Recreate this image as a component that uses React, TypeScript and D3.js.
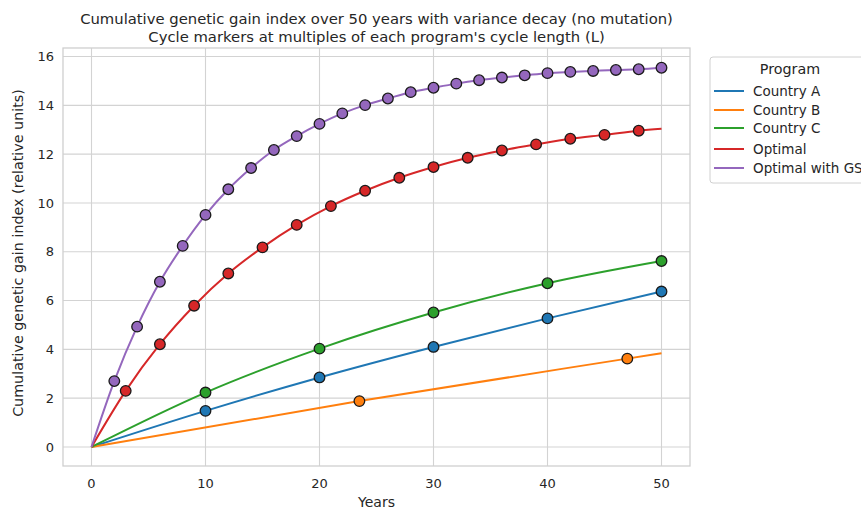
import React, { useEffect, useRef } from "react";
import * as d3 from "d3";

// values
const seriesNames = ["Country A", "Country B", "Country C", "Optimal", "Optimal with GS"];
const seriesColors = ["#1f77b4", "#ff7f0e", "#2ca02c", "#d62728", "#9467bd"];

const yearsA = [0, 10, 20, 30, 40, 50];
const gainA = [0, 1.48, 2.85, 4.1, 5.27, 6.37];
const markersA = [10, 20, 30, 40, 50];

const yearsB = [0, 23.5, 47, 50];
const gainB = [0, 1.88, 3.62, 3.84];
const markersB = [23.5, 47];

const yearsC = [0, 10, 20, 30, 40, 50];
const gainC = [0, 2.23, 4.03, 5.51, 6.71, 7.62];
const markersC = [10, 20, 30, 40, 50];

const yearsOpt = [0, 3, 6, 9, 12, 15, 18, 21, 24, 27, 30, 33, 36, 39, 42, 45, 48, 50];
const gainOpt = [0, 2.3, 4.21, 5.79, 7.11, 8.18, 9.1, 9.87, 10.5, 11.03, 11.47, 11.85, 12.15, 12.4, 12.63, 12.79, 12.96, 13.04];
const markersOpt = [3, 6, 9, 12, 15, 18, 21, 24, 27, 30, 33, 36, 39, 42, 45, 48];

const yearsGS = [0, 2, 4, 6, 8, 10, 12, 14, 16, 18, 20, 22, 24, 26, 28, 30, 32, 34, 36, 38, 40, 42, 44, 46, 48, 50];
const gainGS = [0, 2.7, 4.93, 6.77, 8.24, 9.51, 10.56, 11.43, 12.17, 12.74, 13.24, 13.67, 14.01, 14.28, 14.54, 14.72, 14.89, 15.03, 15.14, 15.23, 15.32, 15.37, 15.41, 15.45, 15.48, 15.54];
const markersGS = [2, 4, 6, 8, 10, 12, 14, 16, 18, 20, 22, 24, 26, 28, 30, 32, 34, 36, 38, 40, 42, 44, 46, 48, 50];

const xTicks = [0, 10, 20, 30, 40, 50];
const yTicks = [0, 2, 4, 6, 8, 10, 12, 14, 16];

const App = () => {
  const ref = useRef<SVGSVGElement>(null);

  useEffect(() => {
    const width = 861;
    const height = 509;
    const margin = { top: 48, right: 171, bottom: 43, left: 63 };
    const innerWidth = width - margin.left - margin.right;
    const innerHeight = height - margin.top - margin.bottom;
    const font = "DejaVu Sans, sans-serif";

    const svg = d3.select(ref.current);
    svg.selectAll("*").remove();
    svg.attr("width", width).attr("height", height);

    svg.append("rect").attr("width", width).attr("height", height).attr("fill", "#fff");

    const g = svg.append("g").attr("transform", `translate(${margin.left},${margin.top})`);

    const xScale = d3.scaleLinear().domain([-2.5, 52.5]).range([0, innerWidth]);
    const yScale = d3.scaleLinear().domain([-0.78, 16.35]).range([innerHeight, 0]);

    // grid
    g.selectAll(".xgrid").data(xTicks).join("line")
      .attr("x1", d => xScale(d)).attr("x2", d => xScale(d))
      .attr("y1", 0).attr("y2", innerHeight)
      .attr("stroke", "#d3d3d3").attr("stroke-width", 1.1);
    g.selectAll(".ygrid").data(yTicks).join("line")
      .attr("x1", 0).attr("x2", innerWidth)
      .attr("y1", d => yScale(d)).attr("y2", d => yScale(d))
      .attr("stroke", "#d3d3d3").attr("stroke-width", 1.1);

    // frame
    g.append("rect").attr("width", innerWidth).attr("height", innerHeight)
      .attr("fill", "none").attr("stroke", "#cfcfcf").attr("stroke-width", 1.3);

    // tick labels
    g.selectAll(".xtick").data(xTicks).join("text")
      .attr("x", d => xScale(d)).attr("y", innerHeight + 22)
      .attr("text-anchor", "middle").attr("font-family", font).attr("font-size", 13)
      .attr("fill", "#262626").text(d => d);
    g.selectAll(".ytick").data(yTicks).join("text")
      .attr("x", -9).attr("y", d => yScale(d)).attr("dy", "0.35em")
      .attr("text-anchor", "end").attr("font-family", font).attr("font-size", 13)
      .attr("fill", "#262626").text(d => d);

    // axis labels
    g.append("text").attr("x", innerWidth / 2).attr("y", innerHeight + 41)
      .attr("text-anchor", "middle").attr("font-family", font).attr("font-size", 14)
      .attr("fill", "#262626").text("Years");
    g.append("text")
      .attr("transform", `translate(${-40},${innerHeight / 2 - 4}) rotate(-90)`)
      .attr("text-anchor", "middle").attr("font-family", font).attr("font-size", 14.3)
      .attr("fill", "#262626").text("Cumulative genetic gain index (relative units)");

    // title
    svg.append("text").attr("x", margin.left + innerWidth / 2).attr("y", 24)
      .attr("text-anchor", "middle").attr("font-family", font).attr("font-size", 14.8)
      .attr("fill", "#262626").text("Cumulative genetic gain index over 50 years with variance decay (no mutation)");
    svg.append("text").attr("x", margin.left + innerWidth / 2).attr("y", 42)
      .attr("text-anchor", "middle").attr("font-family", font).attr("font-size", 14.8)
      .attr("fill", "#262626").text("Cycle markers at multiples of each program's cycle length (L)");

    const series = [
      { years: yearsA, gain: gainA, markers: markersA },
      { years: yearsB, gain: gainB, markers: markersB },
      { years: yearsC, gain: gainC, markers: markersC },
      { years: yearsOpt, gain: gainOpt, markers: markersOpt },
      { years: yearsGS, gain: gainGS, markers: markersGS },
    ];

    const line = d3.line<[number, number]>()
      .x(d => xScale(d[0]))
      .y(d => yScale(d[1]))
      .curve(d3.curveMonotoneX);

    series.forEach((s, i) => {
      const pts: [number, number][] = s.years.map((y, j) => [y, s.gain[j]]);
      g.append("path").datum(pts)
        .attr("fill", "none").attr("stroke", seriesColors[i]).attr("stroke-width", 2)
        .attr("d", line);
    });

    series.forEach((s, i) => {
      const pts = s.markers.map(m => [m, s.gain[s.years.indexOf(m)]] as [number, number]);
      g.selectAll(null).data(pts).join("circle")
        .attr("cx", d => xScale(d[0])).attr("cy", d => yScale(d[1])).attr("r", 5.3)
        .attr("fill", seriesColors[i]).attr("stroke", "#1a1a1a").attr("stroke-width", 1.3);
    });

    // legend
    const legend = svg.append("g").attr("transform", `translate(710,57)`);
    legend.append("rect").attr("width", 170).attr("height", 126).attr("rx", 3)
      .attr("fill", "#fff").attr("stroke", "#d0d0d0").attr("stroke-width", 1);
    legend.append("text").attr("x", 80).attr("y", 17)
      .attr("text-anchor", "middle").attr("font-family", font).attr("font-size", 14.3)
      .attr("fill", "#262626").text("Program");
    const rowY = [34, 53, 71, 92, 111];
    seriesNames.forEach((name, i) => {
      const row = legend.append("g").attr("transform", `translate(0,${rowY[i]})`);
      row.append("line").attr("x1", 4).attr("x2", 34).attr("y1", 0).attr("y2", 0)
        .attr("stroke", seriesColors[i]).attr("stroke-width", 2);
      row.append("text").attr("x", 43).attr("y", 0).attr("dy", "0.35em")
        .attr("font-family", font).attr("font-size", 13.5).attr("fill", "#262626").text(name);
    });
  }, []);

  return (
    <div>
      <svg ref={ref} style={{ position: "absolute", left: 0, top: 0 }}></svg>
    </div>
  );
};

export default App;
